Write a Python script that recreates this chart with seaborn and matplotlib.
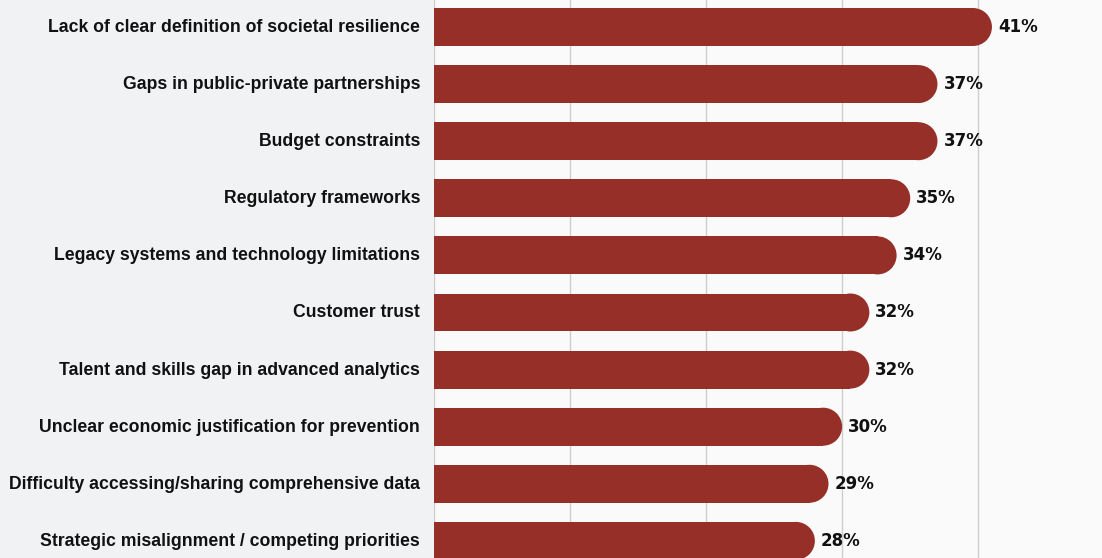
import matplotlib
matplotlib.use("Agg")
import matplotlib.pyplot as plt
from matplotlib.patches import Ellipse
from matplotlib.transforms import ScaledTranslation
import pandas as pd
import seaborn as sns

categories = [
    "Lack of clear definition of societal resilience",
    "Gaps in public-private partnerships",
    "Budget constraints",
    "Regulatory frameworks",
    "Legacy systems and technology limitations",
    "Customer trust",
    "Talent and skills gap in advanced analytics",
    "Unclear economic justification for prevention",
    "Difficulty accessing/sharing comprehensive data",
    "Strategic misalignment / competing priorities",
]
values = [41, 37, 37, 35, 34, 32, 32, 30, 29, 28]
value_labels = [f"{v}%" for v in values]
grid_ticks = [0, 10, 20, 30, 40]

BAR_COLOR = "#952f27"
TEXT_COLOR = "#111111"
FONT = ["Liberation Sans", "DejaVu Sans"]
VALUE_FONT = ["DejaVu Sans"]

sns.set_theme(style="white")
plt.rcParams["font.family"] = FONT

df = pd.DataFrame({"category": categories, "value": values})

fig = plt.figure(figsize=(11.02, 5.58), dpi=100, facecolor="#f1f2f4")
ax = fig.add_axes([433.5 / 1102, 0, (1102 - 433.5) / 1102, 1])
ax.set_facecolor("#fafafa")

sns.barplot(data=df, x="value", y="category", orient="h", color=BAR_COLOR,
            width=0.665, saturation=1, linewidth=0, ax=ax, zorder=3)

ax.set_xlim(0, 49.08)
ax.set_ylim(9.30, -0.473)
ax.set_xticks(grid_ticks)
ax.set_xticklabels([])
ax.tick_params(axis="x", length=0)
ax.tick_params(axis="y", length=0, pad=9.7)
ax.grid(axis="x", color="#cdcdcd", linewidth=1.0, zorder=0)
ax.grid(axis="y", visible=False)
ax.set_axisbelow(True)
for s in ax.spines.values():
    s.set_visible(False)
ax.set_xlabel("")
ax.set_ylabel("")
lift = ScaledTranslation(0, 1.5 / 100, fig.dpi_scale_trans)
for lbl in ax.get_yticklabels():
    lbl.set_fontsize(12.7)
    lbl.set_fontweight("bold")
    lbl.set_color(TEXT_COLOR)
    lbl.set_transform(lbl.get_transform() + lift)

# Round the right end of each bar with a half-circle cap
fig.canvas.draw()
x_px_per_unit = ax.transData.transform((1, 0))[0] - ax.transData.transform((0, 0))[0]
y_px_per_unit = abs(ax.transData.transform((0, 1))[1] - ax.transData.transform((0, 0))[1])
for patch, v, lab in zip(ax.patches, values, value_labels):
    h = patch.get_height()
    yc = patch.get_y() + h / 2
    rx = (h / 2) * y_px_per_unit / x_px_per_unit
    patch.set_width(v - rx)
    cap = Ellipse((v - rx, yc), 2 * rx, h, facecolor=BAR_COLOR,
                  edgecolor="none", zorder=3)
    ax.add_patch(cap)
    ax.annotate(lab, xy=(v, yc), xytext=(4.3, 0), textcoords="offset points",
                ha="left", va="center", fontsize=12, fontweight="bold",
                color=TEXT_COLOR, family=VALUE_FONT)

fig.savefig("out.png", dpi=100, facecolor=fig.get_facecolor())
